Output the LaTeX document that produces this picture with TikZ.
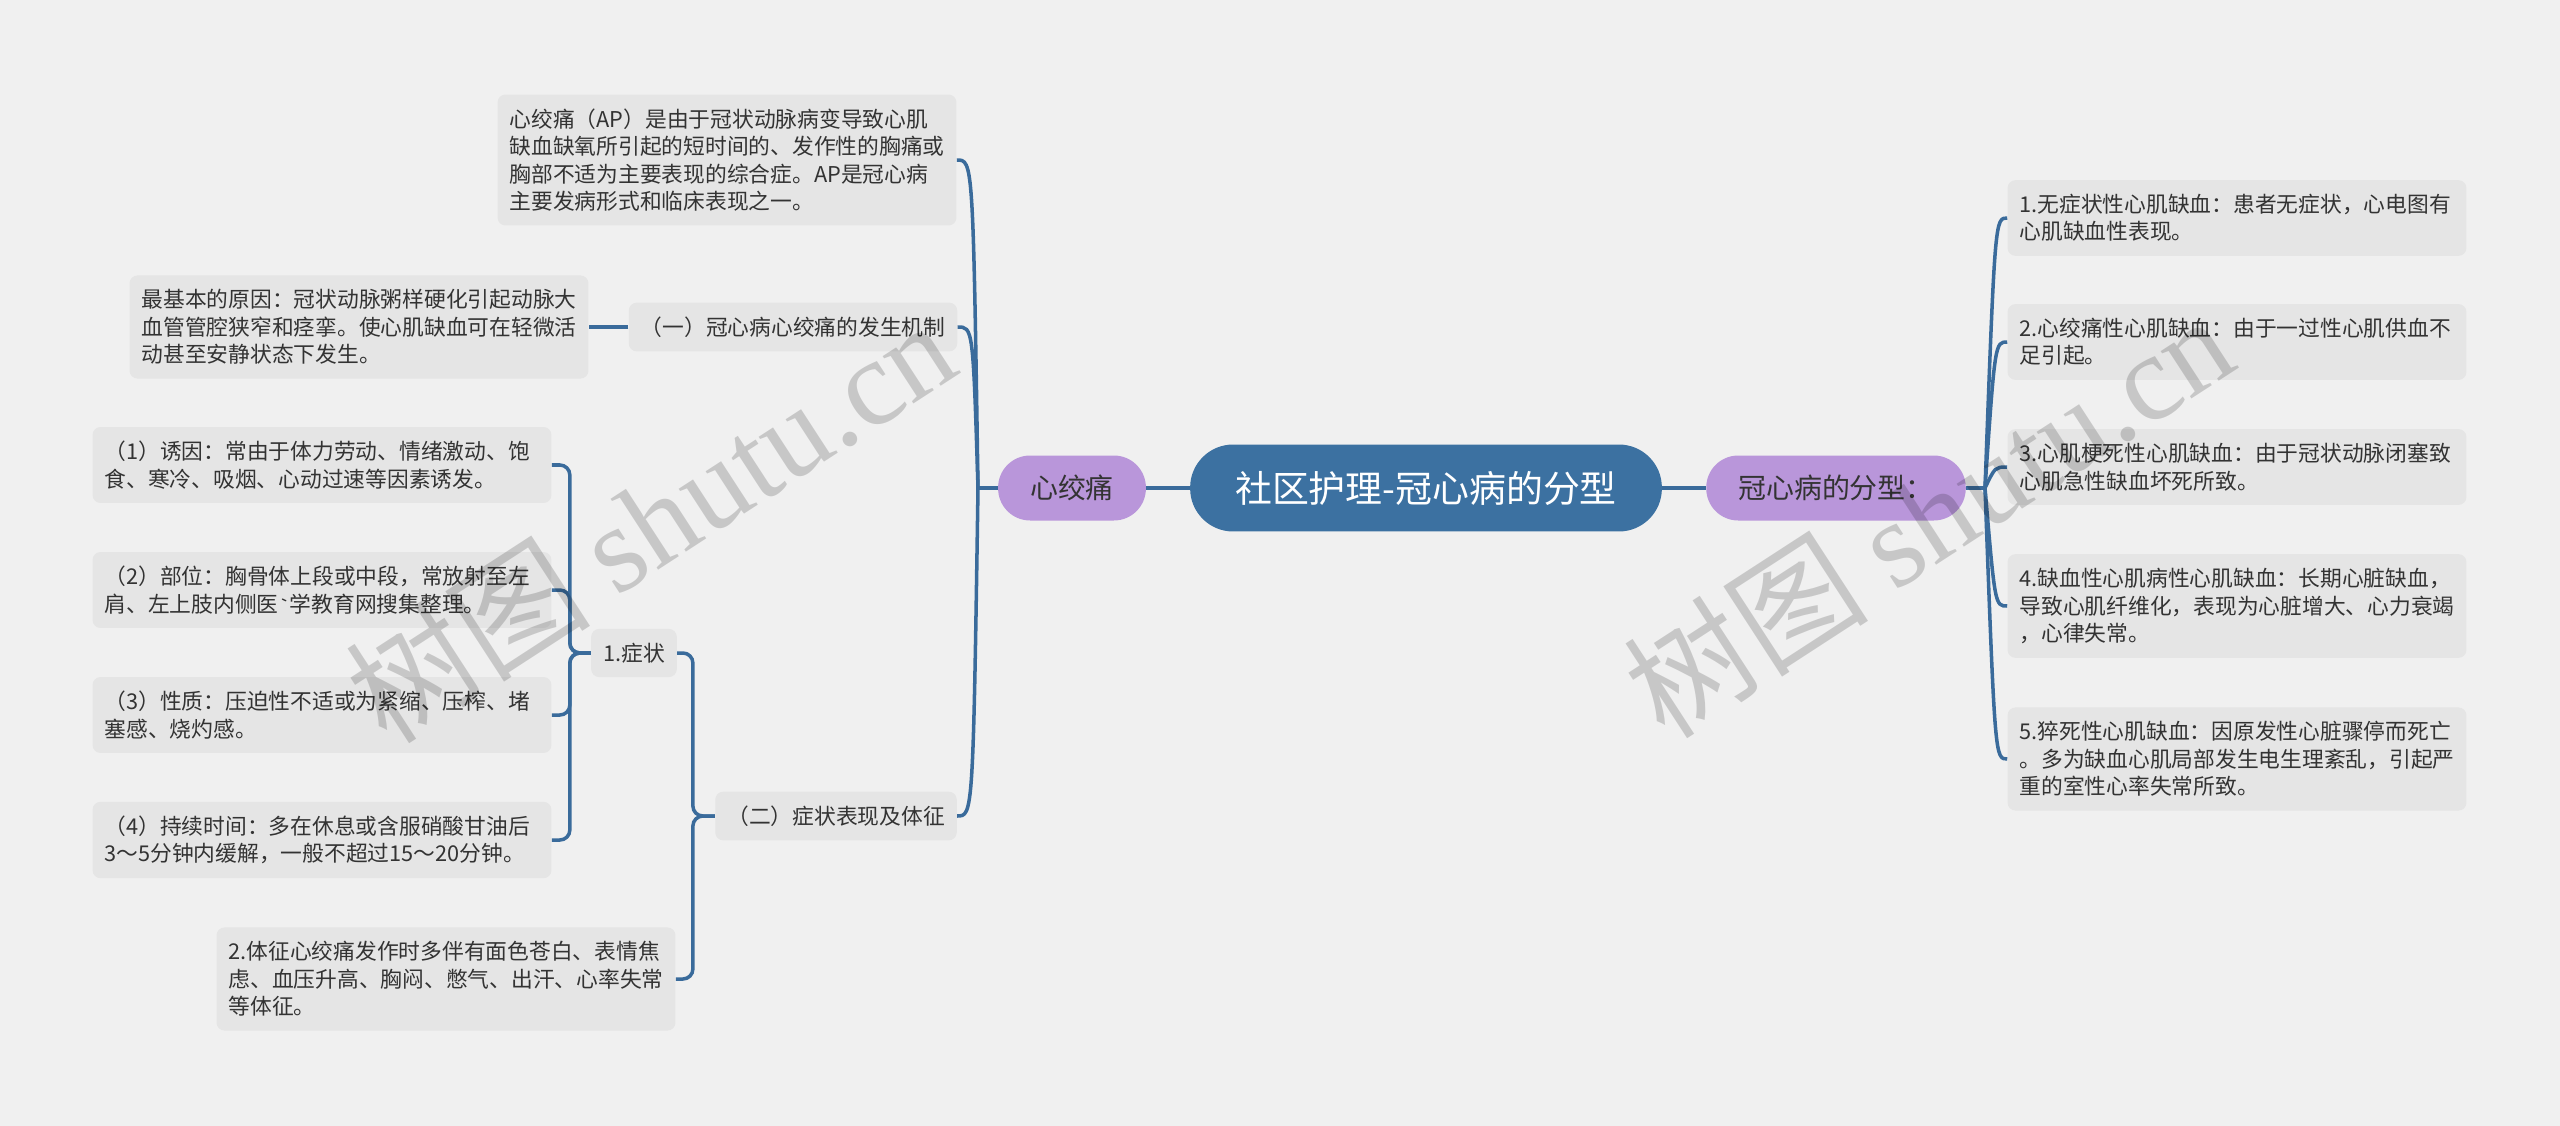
\documentclass[tikz,border=0pt]{standalone}
\usepackage{fontspec}
\setmainfont{Noto Sans CJK SC}
\newfontfamily\wmlatin{Liberation Serif}
\usetikzlibrary{calc}

\definecolor{bgc}{HTML}{F0F0F0}
\definecolor{boxc}{HTML}{E5E5E5}
\definecolor{linec}{HTML}{3A6B9B}
\definecolor{rootc}{HTML}{3C71A1}
\definecolor{purc}{HTML}{B996DA}
\definecolor{txtc}{HTML}{333333}

\tikzset{
  root/.style={fill=rootc, text=white, rounded corners=0.86cm, minimum height=1.74cm,
    inner xsep=0.9cm, font=\fontsize{21pt}{25pt}\selectfont},
  topic/.style={fill=purc, text=txtc, rounded corners=0.64cm, minimum height=1.3cm,
    inner xsep=0.64cm, font=\fontsize{15.9pt}{19pt}\selectfont},
  leaf/.style={fill=boxc, text=txtc, rounded corners=0.16cm, inner xsep=0.24cm,
    inner ysep=0.28cm, font=\fontsize{12.38pt}{15.65pt}\selectfont},
  para/.style={leaf, text width=8.7cm, align=left},
  link/.style={draw=linec, line width=2pt},
  elbow/.style={link, rounded corners=0.2cm},
  wm/.style={text=black, text opacity=0.17, rotate=33,
    font=\fontsize{70pt}{78pt}\selectfont}
}

\begin{document}
\begin{tikzpicture}[x=0.02cm, y=-0.02cm]
% canvas
  \useasboundingbox (0,0) rectangle (2560,1126);
  \fill[bgc] (0,0) rectangle (2560,1126);

% centre and main topics
  \node[root] (root) at (1426,488) {社区护理-冠心病的分型};
  \node[topic] (xjt) at (1072,488) {心绞痛};
  \node[topic] (fx) at (1836,488) {冠心病的分型：};

% left side
  \node[para] (ap) at (727,160) {心绞痛（AP）是由于冠状动脉病变导致心肌\\缺血缺氧所引起的短时间的、发作性的胸痛或\\胸部不适为主要表现的综合症。AP是冠心病\\主要发病形式和临床表现之一。};
  \node[leaf] (jz) at (793,327) {（一）冠心病心绞痛的发生机制};
  \node[leaf] (bx) at (836,816) {（二）症状表现及体征};
  \node[para] (yy) at (359,327) {最基本的原因：冠状动脉粥样硬化引起动脉大\\血管管腔狭窄和痉挛。使心肌缺血可在轻微活\\动甚至安静状态下发生。};
  \node[leaf] (zz) at (634,653) {1.症状};
  \node[para] (tz) at (446,979) {2.体征心绞痛发作时多伴有面色苍白、表情焦\\虑、血压升高、胸闷、憋气、出汗、心率失常\\等体征。};
  \node[para] (s1) at (322,465) {（1）诱因：常由于体力劳动、情绪激动、饱\\食、寒冷、吸烟、心动过速等因素诱发。};
  \node[para] (s2) at (322,590) {（2）部位：胸骨体上段或中段，常放射至左\\肩、左上肢内侧医{\ttfamily\symbol{96}}学教育网搜集整理。};
  \node[para] (s3) at (322,715) {（3）性质：压迫性不适或为紧缩、压榨、堵\\塞感、烧灼感。};
  \node[para] (s4) at (322,840) {（4）持续时间：多在休息或含服硝酸甘油后\\3～5分钟内缓解，一般不超过15～20分钟。};

% right side
  \node[para] (r1) at (2237,218) {1.无症状性心肌缺血：患者无症状，心电图有\\心肌缺血性表现。};
  \node[para] (r2) at (2237,342) {2.心绞痛性心肌缺血：由于一过性心肌供血不\\足引起。};
  \node[para] (r3) at (2237,467) {3.心肌梗死性心肌缺血：由于冠状动脉闭塞致\\心肌急性缺血坏死所致。};
  \node[para] (r4) at (2237,606) {4.缺血性心肌病性心肌缺血：长期心脏缺血，\\导致心肌纤维化，表现为心脏增大、心力衰竭\\，心律失常。};
  \node[para] (r5) at (2237,759) {5.猝死性心肌缺血：因原发性心脏骤停而死亡\\。多为缺血心肌局部发生电生理紊乱，引起严\\重的室性心率失常所致。};

% links
  \draw[link] (root.west) -- (xjt.east);
  \draw[link] (root.east) -- (fx.west);
  \coordinate (jl) at (978,488);
  \coordinate (jr) at (1985,488);
  \draw[link] (xjt.west) -- (jl);
  \draw[link] (fx.east) -- (jr);
  \foreach \n in {ap,jz,bx}
    \draw[link] (jl) .. controls ($(jl |- \n.east)+(-5,0)$) .. (\n.east);
  \foreach \n in {r1,r2,r3,r4,r5}
    \draw[link] (jr) .. controls ($(jr |- \n.west)+(10,0)$) .. (\n.west);

  \draw[link] (jz.west) -- (yy.east);
  \foreach \n in {zz,tz}
    \draw[elbow] (\n.east) -| ($(bx.west)+(-22,0)$) -- (bx.west);
  \foreach \n in {s1,s2,s3,s4}
    \draw[elbow] (\n.east) -| ($(zz.west)+(-21,0)$) -- (zz.west);

% watermark
  \node[wm] (wm1) at (650,520) {树图 {\wmlatin shutu.cn}};
  \node[wm] (wm2) at (1928,515) {树图 {\wmlatin shutu.cn}};
\end{tikzpicture}
\end{document}
